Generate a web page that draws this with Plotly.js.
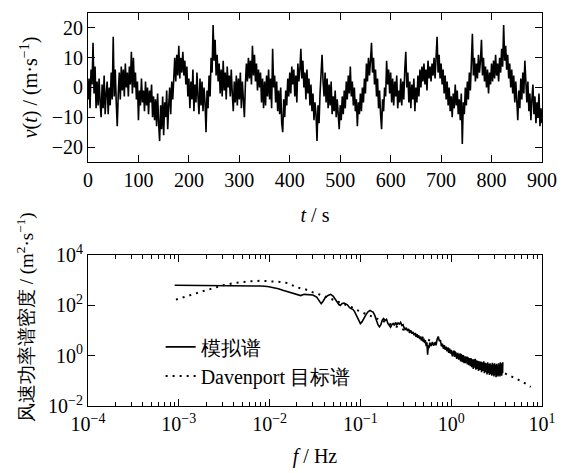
<!DOCTYPE html>
<html><head><meta charset="utf-8">
<script src="https://cdn.plot.ly/plotly-3.0.1.min.js"></script>
<style>html,body{margin:0;padding:0;background:#fff}#chart{width:564px;height:473px}</style>
</head><body><div id="chart"></div>
<script>
const velocity = [
-4,3,-7,6,1,15,-2,7,-7,2,
-6,3,-5,-10,1,-7,4,-9,-2,2,
-9,0,-6,5,-4,17,-3,6,-5,-13,
-2,5,-4,7,-1,6,-3,8,0,5,
-3,7,1,12,-2,10,0,5,-4,2,
-11,-1,-6,3,-5,-1,-8,2,-6,0,
-9,-1,-5,1,-10,-3,-11,-4,-13,-2,
-12,-18,-6,-14,-3,-16,-5,-10,-1,-14,
-6,0,-9,2,-4,5,10,2,11,4,
14,3,10,5,12,4,9,1,7,-3,
3,-7,2,-4,6,-8,1,-5,5,-3,
-9,3,-6,2,-8,0,-5,-15,-1,-7,
4,-3,10,5,21,9,16,4,11,2,
8,-2,6,-3,9,-1,5,-4,7,0,
4,-3,6,-2,-8,2,-5,4,-6,3,
-4,5,-7,2,-3,-10,1,8,2,10,
3,9,1,14,4,11,2,8,-1,6,
0,5,-5,3,-7,2,-6,4,-3,6,
-4,3,-7,13,0,4,-5,2,-8,-1,
-9,0,-12,-15,-4,-10,-1,-6,3,-3,
5,-2,7,1,6,-3,4,-5,8,2,
6,13,3,9,0,5,-4,6,-2,3,
-6,1,-8,-2,-11,-5,-9,-18,-6,-12,
-2,4,11,2,-3,5,-5,3,-7,1,
-6,2,-9,-3,-8,-1,-10,-4,-8,-14,
-6,-11,-3,-9,-1,-7,2,-4,4,-2,
7,-3,2,-6,0,-8,-4,-13,-5,-9,
-2,-8,0,-5,3,-2,8,2,10,4,
9,15,5,10,1,6,-3,3,-7,-1,
-9,-14,-4,-8,0,-3,9,1,6,-2,
5,-5,3,-6,2,-3,4,-7,-1,-5,
3,-6,2,-4,6,12,0,5,-5,2,
-7,1,-4,3,-8,0,-5,4,-3,6,
0,7,2,8,1,6,-1,9,3,7,
2,8,4,10,3,9,17,5,11,3,
8,1,6,-2,4,-4,2,-6,0,-8,
-3,-10,-2,-7,1,-6,-1,-9,-4,-11,
-2,-19,-5,-9,0,-6,2,-4,5,-1,
8,18,4,10,2,8,3,11,5,9,
16,4,10,2,7,0,6,-2,5,1,
8,2,9,3,11,4,8,2,10,5,
13,7,21,9,14,6,11,3,8,0,
6,-2,4,-5,2,-6,-11,-1,-7,3,
-4,5,-2,9,-1,-5,2,-8,-2,-11,
-4,1,-9,-3,-12,-5,-10,-2,-13,-7,
-12];

// simulated spectrum
const freqSim = [
0.0009,0.0015,0.0025,0.004,0.006,0.008,0.0095,0.011,0.0125,0.014,
0.016,0.018,0.020,0.022,0.024,0.027,0.030,0.033,0.035,0.037,
0.039,0.041,0.044,0.047,0.050,0.053,0.055,0.058,0.060,0.063,
0.066,0.069,0.072,0.076,0.080,0.083,0.086,0.090,0.095,0.100,
0.104,0.108,0.112,0.117,0.122,0.128,0.133,0.138,0.144,0.150,
0.156,0.162,0.168,0.174,0.180,0.187,0.194,0.201,0.208,0.215,
0.222,0.230,0.237,0.244,0.252,0.260,0.268,0.277,0.286,0.295,
0.30,0.31,0.32,0.33,0.34,0.35,0.36,0.37,0.38,0.39,
0.40,0.41,0.42,0.43,0.44,0.45,0.46,0.47,0.48,0.49,
0.50,0.51,0.52,0.53,0.54,0.55,0.56,0.57,0.58,0.60,
0.62,0.64,0.66,0.68,0.70,0.72,0.74,0.76,0.78,0.80,
0.82,0.84,0.86,0.88,0.90,0.92,0.94,0.96,0.98,1.00,
1.03,1.06,1.09,1.12,1.15,1.18,1.21,1.24,1.27,1.30,
1.33,1.36,1.39,1.42,1.45,1.48,1.51,1.54,1.57,1.60,
1.63,1.66,1.69,1.72,1.75,1.78,1.81,1.84,1.87,1.90,
1.93,1.96,2.00,2.04,2.08,2.12,2.16,2.20,2.24,2.28,
2.32,2.36,2.40,2.44,2.48,2.52,2.56,2.60,2.64,2.68,
2.72,2.76,2.80,2.84,2.88,2.92,2.96,3.00,3.04,3.08,
3.12,3.16,3.20,3.24,3.28,3.32,3.36,3.40,3.44,3.48,
3.52,3.56,3.60,3.64,3.68,3.70];
const psdSim = [
630,630,625,620,610,590,565,515,460,400,
350,310,265,245,275,275,260,215,150,117,
150,205,250,275,235,175,135,108,100,120,
123,115,105,81,75,68,58,40,26,19,
22,28,38,47,57,63,58,54,40,25,
17,14,17,26,30,25,28,19,15,13.5,
17,19,16,21,17,20,18,21,16,17,
14,11,13,9.5,11.5,8.5,10,7.5,8.8,6.5,
8,5.6,7.2,5.2,6.4,4.6,5.8,4.0,5.2,3.6,
4.8,3.2,4.2,2.4,3.4,1.1,2.6,2.0,3.3,2.4,
3.5,2.5,3.3,2.6,4.5,5.8,3.8,4.2,2.4,3.0,
1.9,2.6,1.7,2.3,1.5,2.1,1.3,1.9,1.2,1.7,
0.95,1.6,0.9,1.4,0.75,1.3,0.7,1.2,0.6,1.1,
0.55,1.05,0.5,0.95,0.5,0.9,0.45,0.85,0.42,0.8,
0.38,0.78,0.35,0.72,0.3,0.7,0.33,0.75,0.28,0.65,
0.3,0.62,0.25,0.6,0.27,0.58,0.22,0.55,0.25,0.6,
0.2,0.52,0.22,0.5,0.18,0.55,0.2,0.48,0.17,0.5,
0.19,0.45,0.16,0.52,0.18,0.46,0.15,0.5,0.17,0.44,
0.14,0.48,0.16,0.42,0.15,0.5,0.17,0.45,0.15,0.55,
0.18,0.5,0.16,0.45,0.2,0.55];

// Davenport target spectrum
const freqDav = [0.00093,0.0012,0.0015,0.002,0.0025,0.003,0.004,0.005,0.006,0.008,
0.01,0.013,0.016,0.02,0.025,0.03,0.04,0.05,0.06,0.08,
0.1,0.13,0.16,0.2,0.25,0.3,0.4,0.5,0.6,0.8,
1,1.3,1.6,2,2.5,3,4,5,6,7.5];
const psdDav = [170,230,300,400,500,620,760,850,910,950,
930,860,760,520,430,330,235,170,126,85,
56,38,27,19.5,14,10.5,7,5,3.8,2.5,
1.65,1.05,0.75,0.52,0.36,0.28,0.19,0.13,0.095,0.058];

const timeTicks = [0,100,200,300,400,500,600,700,800,900];
const velTicks = [-20,-10,0,10,20];
const freqTickVals = [1e-4,1e-3,1e-2,1e-1,1,10];
const freqTickText = ['10<sup>−4</sup>','10<sup>−3</sup>','10<sup>−2</sup>','10<sup>−1</sup>','10<sup>0</sup>','10<sup>1</sup>'];
const psdTickVals = [1e-2,1,1e2,1e4];
const psdTickText = ['10<sup>−2</sup>','10<sup>0</sup>','10<sup>2</sup>','10<sup>4</sup>'];
const legendNames = ['模拟谱','Davenport 目标谱'];

function fnt(size) { return {family: 'Liberation Serif', size: size, color: '#000'}; }

const traces = [
  {x0: 0, dx: 2, y: velocity, type: 'scatter', mode: 'lines', line: {color: '#000', width: 1.6},
   xaxis: 'x', yaxis: 'y', showlegend: false, hoverinfo: 'skip'},
  {x: freqDav, y: psdDav, type: 'scatter', mode: 'lines', name: legendNames[1],
   line: {color: '#000', width: 2, dash: '2px,5px'}, xaxis: 'x2', yaxis: 'y2'},
  {x: freqSim, y: psdSim, type: 'scatter', mode: 'lines', name: legendNames[0],
   line: {color: '#000', width: 1.6}, xaxis: 'x2', yaxis: 'y2'}
];

function axis(extra) {
  return Object.assign({showline: true, linecolor: '#000', linewidth: 1, mirror: 'ticks', ticks: 'inside',
    tickcolor: '#000', ticklen: 7, tickwidth: 1, showgrid: false, zeroline: false, tickfont: fnt(20)}, extra);
}

const layout = {
  width: 564, height: 473,
  margin: {l: 88, r: 22, t: 13, b: 67},
  paper_bgcolor: '#fff', plot_bgcolor: '#fff',
  font: fnt(20),
  showlegend: true,
  xaxis: axis({domain: [0, 1], anchor: 'y', range: [0, 900], tickmode: 'array', tickvals: timeTicks,
    title: {text: '<i>t</i> / s', font: fnt(20), standoff: 18}}),
  yaxis: axis({domain: [0.621, 1], anchor: 'x', range: [-25, 25], tickmode: 'array', tickvals: velTicks,
    title: {text: '<i>v</i>(<i>t</i>) / (m·s<sup>−1</sup>)', font: fnt(20), standoff: 8}}),
  xaxis2: axis({domain: [0, 1], anchor: 'y2', type: 'log', range: [-4, 1],
    tickmode: 'array', tickvals: freqTickVals, ticktext: freqTickText,
    minor: {ticks: 'inside', ticklen: 4, tickcolor: '#000', tickwidth: 1, dtick: 'D1', showgrid: false},
    title: {text: '<i>f</i> / Hz', font: fnt(20), standoff: 14}}),
  yaxis2: axis({domain: [0, 0.384], anchor: 'x2', type: 'log', range: [-2, 4],
    tickmode: 'array', tickvals: psdTickVals, ticktext: psdTickText}),
  legend: {x: 0.16, y: 0.2, xanchor: 'left', yanchor: 'top', bgcolor: 'rgba(0,0,0,0)',
    font: fnt(20), traceorder: 'reversed', itemwidth: 30, tracegroupgap: 0},
  annotations: [{
    text: '风速功率谱密度 / (m<sup>2</sup>·s<sup>−1</sup>)', xref: 'paper', yref: 'paper',
    x: -0.139, y: 0.226, xanchor: 'center', yanchor: 'middle', textangle: -90, showarrow: false,
    font: fnt(19)
  }]
};

Plotly.newPlot('chart', traces, layout, {staticPlot: true, displayModeBar: false});
</script></body></html>
